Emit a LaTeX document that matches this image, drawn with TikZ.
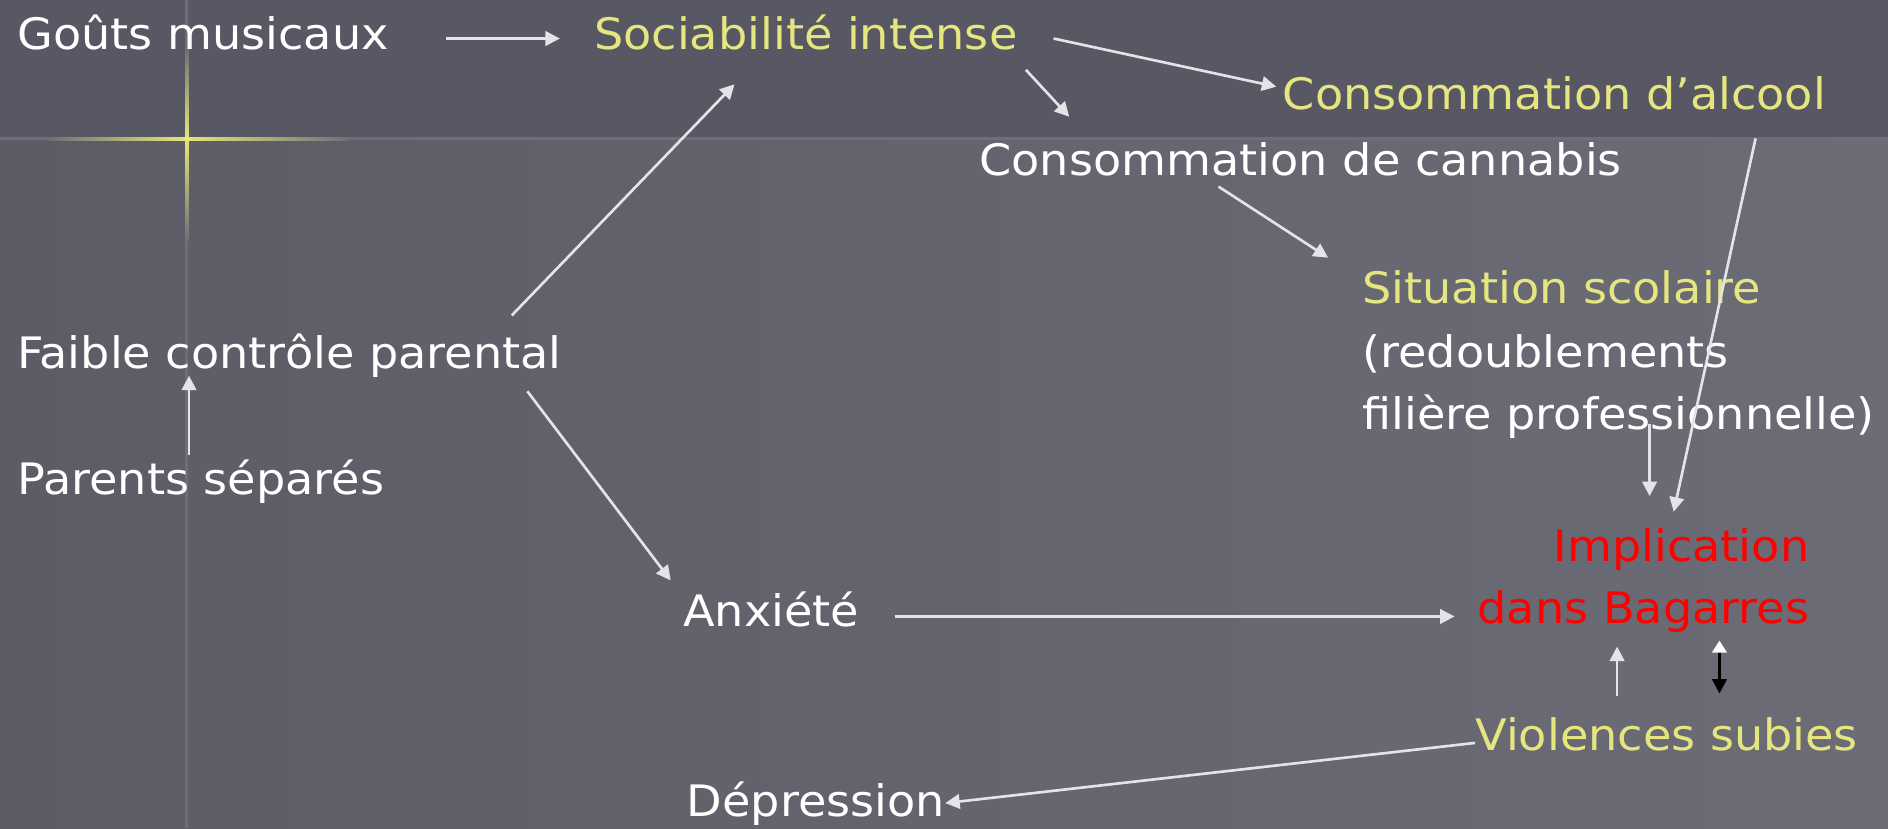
\documentclass[tikz,border=0pt]{standalone}
\usepackage{fontspec}
\setmainfont{DejaVu Sans}[FakeStretch=1.065]
\usetikzlibrary{arrows.meta,calc}
\definecolor{bgtop}{HTML}{585865}
\definecolor{bglowl}{HTML}{5C5C67}
\definecolor{bglowr}{HTML}{6C6C76}
\definecolor{gridc}{HTML}{6E6E78}
\definecolor{glow}{HTML}{E6E67A}
\definecolor{txtyellow}{HTML}{E6E680}
\definecolor{arrowc}{HTML}{E4E4E8}
\begin{document}
\begin{tikzpicture}[x=0.5pt,y=-0.5pt,
  lbl/.style={inner sep=0pt,anchor=base west,font=\fontsize{18}{22}\selectfont},
  wt/.style={lbl,text=white},
  yl/.style={lbl,text=txtyellow},
  rd/.style={lbl,text=red},
  arr/.style={draw=arrowc,line width=1.1pt,-{Triangle[length=6pt,width=6pt]}},
  dbl/.style={draw=black,line width=1.1pt,{Triangle[length=5pt,width=6pt,color=white]}-{Triangle[length=6pt,width=6pt,color=black]}}]
\useasboundingbox (0,0) rectangle (1568,688);
% background
\shade[left color=bglowl,right color=bglowr] (0,115) rectangle (1568,688);
\fill[bgtop] (0,0) rectangle (1568,115);
\fill[gridc] (0,114) rectangle (1568,116.5);
\fill[gridc] (154,0) rectangle (156.5,688);
\shade[left color=gridc,right color=glow] (40,114) rectangle (155,116.5);
\shade[left color=glow,right color=gridc] (155,114) rectangle (290,116.5);
\shade[top color=gridc,bottom color=glow] (154,40) rectangle (156.5,115);
\shade[top color=glow,bottom color=gridc] (154,115) rectangle (156.5,200);
% nodes
\node[wt] (gouts) at (14,41) {Goûts musicaux};
\node[yl] (soc) at (493,41) {Sociabilité intense};
\node[yl] (alc) at (1065,91) {Consommation d’alcool};
\node[wt] (can) at (813,146) {Consommation de cannabis};
\node[yl] (sit) at (1131,252) {Situation scolaire};
\node[wt] (sit2) at (1131,305) {(redoublements};
\node[wt] (sit3) at (1131,357) {filière professionnelle)};
\node[rd,anchor=base east] (imp) at (1503,466) {Implication};
\node[rd,anchor=base east] (imp2) at (1503,518) {dans Bagarres};
\node[wt] (anx) at (567,520) {Anxiété};
\node[wt] (fcp) at (14,306) {Faible contrôle parental};
\node[wt] (par) at (14,411) {Parents séparés};
\node[yl] (vio) at (1225,623) {Violences subies};
\node[wt] (dep) at (570,678) {Dépression};
% connectors
\draw[arr] ([shift={(356,-9)}]gouts.base west) -- ([shift={(-28,-9)}]soc.base west);
\draw[arr] ([shift={(382,-9)}]soc.base west) -- ([shift={(-5,-19)}]alc.base west);
\draw[arr] ([shift={(359,17)}]soc.base west) -- ([shift={(75,-49)}]can.base west);
\draw[arr] ([shift={(199,9)}]can.base west) -- ([shift={(-28,-38)}]sit.base west);
\draw[arr] ([shift={(239,-5)}]sit3.base west) -- ([shift={(-133,-54)}]imp.base east);
\draw[arr] ([shift={(393,24)}]alc.base west) -- ([shift={(-113,-41)}]imp.base east);
\draw[arr] ([shift={(176,-8)}]anx.base west) -- ([shift={(-295,-6)}]imp2.base east);
\draw[arr] ([shift={(411,-44)}]fcp.base west) -- ([shift={(117,29)}]soc.base west);
\draw[arr] ([shift={(424,19)}]fcp.base west) -- ([shift={(-10,-38)}]anx.base west);
\draw[arr] ([shift={(143,-33)}]par.base west) -- ([shift={(143,6)}]fcp.base west);
\draw[arr] ([shift={(118,-45)}]vio.base west) -- ([shift={(-160,19)}]imp2.base east);
\draw[dbl] ([shift={(-75,14)}]imp2.base east) -- ([shift={(203,-47)}]vio.base west);
\draw[arr] ([shift={(0,-6)}]vio.base west) -- ([shift={(215,-11)}]dep.base west);
\end{tikzpicture}
\end{document}
